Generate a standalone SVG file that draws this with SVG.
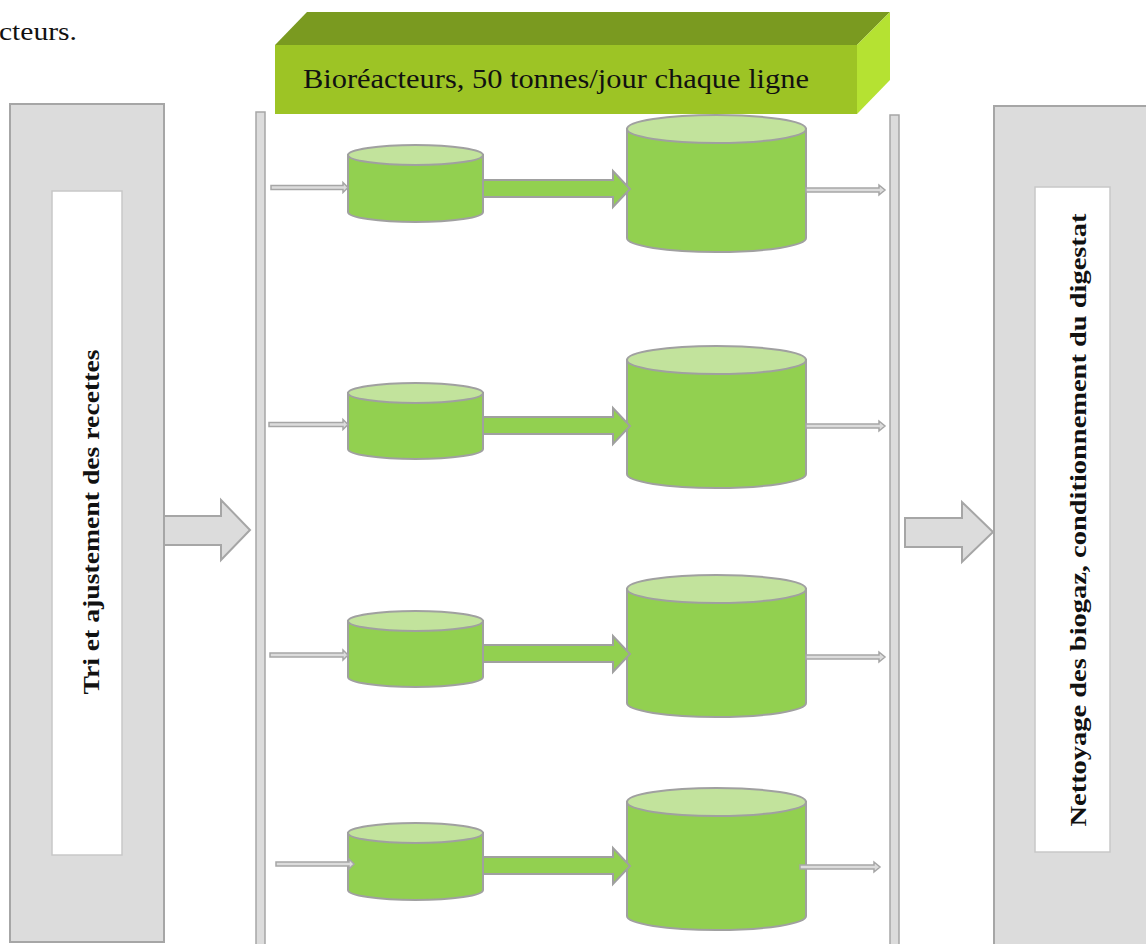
<svg xmlns="http://www.w3.org/2000/svg" width="1146" height="944" viewBox="0 0 1146 944">
  <style>
    .serif { font-family: "Liberation Serif", "DejaVu Serif", serif; fill: #111; }
    .panel { fill: #dcdcdc; stroke: #a6a6a6; stroke-width: 2; }
    .inner { fill: #ffffff; stroke: #c8c8c8; stroke-width: 1.5; }
    .bar { fill: #dcdcdc; stroke: #a6a6a6; stroke-width: 1.5; }
    .body { fill: #92d050; stroke: #a0a0a0; stroke-width: 2; }
    .lid { fill: #c2e39c; stroke: #a0a0a0; stroke-width: 2; }
    .flow { fill: #92d050; stroke: #a0a0a0; stroke-width: 2; }
    .pipe { fill: #dcdcdc; stroke: #a6a6a6; stroke-width: 1.5; }
    .big { fill: #dcdcdc; stroke: #a6a6a6; stroke-width: 2; }
  </style>

  <rect width="1146" height="944" fill="#ffffff"/>

  <text class="serif" x="-1" y="40" font-size="25" textLength="78" lengthAdjust="spacingAndGlyphs">cteurs.</text>

  <!-- reactor title block -->
  <g id="title">
    <polygon points="275,45 307,12 890,12 857,45" fill="#7a9a20"/>
    <polygon points="857,45 890,12 890,80 857,114" fill="#b5e232"/>
    <rect x="275" y="45" width="582" height="69" fill="#9dc425"/>
    <text class="serif" x="303" y="88" font-size="27" textLength="506" lengthAdjust="spacingAndGlyphs">Bioréacteurs, 50 tonnes/jour chaque ligne</text>
  </g>

  <!-- sorting stage -->
  <g id="sorting">
    <rect class="panel" x="10" y="104" width="154" height="838"/>
    <rect class="inner" x="52" y="191" width="70" height="664"/>
    <text class="serif" font-weight="bold" font-size="23" text-anchor="middle" textLength="345" lengthAdjust="spacingAndGlyphs" transform="translate(99,522) rotate(-90)">Tri et ajustement des recettes</text>
  </g>

  <!-- distribution manifold -->
  <g id="manifold-in">
    <rect class="bar" x="256" y="112" width="9" height="840"/>
  </g>
  <g id="manifold-out">
    <rect class="bar" x="890" y="115" width="9" height="840"/>
  </g>

  <!-- gas cleaning stage -->
  <g id="cleaning">
    <rect class="panel" x="994" y="106" width="160" height="850"/>
    <rect class="inner" x="1035" y="187" width="75" height="665"/>
    <text class="serif" font-weight="bold" font-size="23" text-anchor="middle" textLength="613" lengthAdjust="spacingAndGlyphs" transform="translate(1086,520) rotate(-90)">Nettoyage des biogaz, conditionnement du digestat</text>
  </g>

  <!-- reactor lines -->
  <g id="line-1">
    <path class="body" d="M348,155 V212 A67.5,10 0 0 0 483,212 V155 Z"/>
    <ellipse class="lid" cx="415.5" cy="155" rx="67.5" ry="10"/>
    <path class="body" d="M627,129 V238 A89.5,14 0 0 0 806,238 V129 Z"/>
    <ellipse class="lid" cx="716.5" cy="129" rx="89.5" ry="14"/>
  </g>
  <g id="line-2">
    <path class="body" d="M348,393 V449 A67.5,10 0 0 0 483,449 V393 Z"/>
    <ellipse class="lid" cx="415.5" cy="393" rx="67.5" ry="10"/>
    <path class="body" d="M627,360 V474 A89.5,14 0 0 0 806,474 V360 Z"/>
    <ellipse class="lid" cx="716.5" cy="360" rx="89.5" ry="14"/>
  </g>
  <g id="line-3">
    <path class="body" d="M348,621 V677 A67.5,10 0 0 0 483,677 V621 Z"/>
    <ellipse class="lid" cx="415.5" cy="621" rx="67.5" ry="10"/>
    <path class="body" d="M627,589 V703 A89.5,14 0 0 0 806,703 V589 Z"/>
    <ellipse class="lid" cx="716.5" cy="589" rx="89.5" ry="14"/>
  </g>
  <g id="line-4">
    <path class="body" d="M348,833 V890 A67.5,10 0 0 0 483,890 V833 Z"/>
    <ellipse class="lid" cx="415.5" cy="833" rx="67.5" ry="10"/>
    <path class="body" d="M627,802 V916 A89.5,14 0 0 0 806,916 V802 Z"/>
    <ellipse class="lid" cx="716.5" cy="802" rx="89.5" ry="14"/>
  </g>

  <!-- connectors -->
  <g id="connectors">
    <!-- stage transfer arrows -->
    <polygon class="big" points="164,516 221,516 221,500 250,530 221,560 221,545 164,545"/>
    <polygon class="big" points="905,518 962,518 962,502 993,532 962,562 962,547 905,547"/>

    <!-- pre-digester to digester -->
    <polygon class="flow" points="483,180 613,180 613,171 630,189 613,207 613,197 483,197"/>
    <polygon class="flow" points="483,417 613,417 613,408 630,426 613,444 613,434 483,434"/>
    <polygon class="flow" points="483,645 613,645 613,636 630,654 613,672 613,662 483,662"/>
    <polygon class="flow" points="483,857 613,857 613,848 630,866 613,884 613,874 483,874"/>

    <!-- feed pipes -->
    <polygon class="pipe" points="271,185.5 343,185.5 343,182.5 348,187.5 343,192.5 343,189.5 271,189.5"/>
    <polygon class="pipe" points="269,422.5 343,422.5 343,419.5 348,424.5 343,429.5 343,426.5 269,426.5"/>
    <polygon class="pipe" points="270,653 343,653 343,650 348,655 343,660 343,657 270,657"/>
    <polygon class="pipe" points="276,862 349,862 349,859 354,864 349,869 349,866 276,866"/>

    <!-- outlet pipes -->
    <polygon class="pipe" points="806,188 879,188 879,185 885,190 879,195 879,192 806,192"/>
    <polygon class="pipe" points="806,424 879,424 879,421 885,426 879,431 879,428 806,428"/>
    <polygon class="pipe" points="806,655 879,655 879,652 885,657 879,662 879,659 806,659"/>
    <polygon class="pipe" points="800,865 874,865 874,862 880,867 874,872 874,869 800,869"/>
  </g>
</svg>
